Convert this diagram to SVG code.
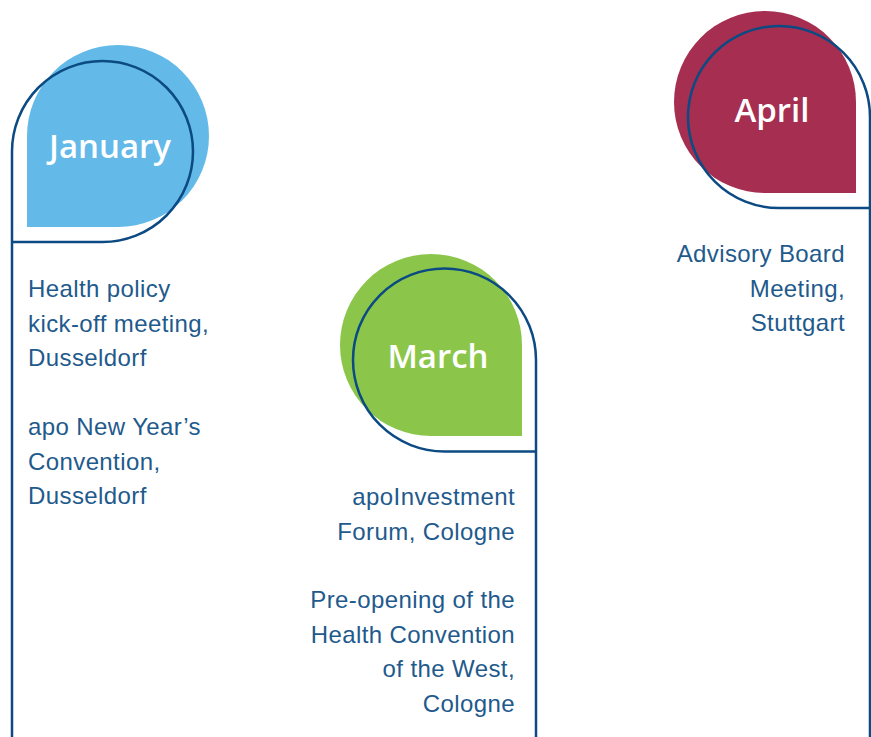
<svg xmlns="http://www.w3.org/2000/svg" width="871" height="737" viewBox="0 0 871 737">
<style>
.line{fill:none;stroke:#0b4a83;stroke-width:2.5}
.month{font-family:"Open Sans","Liberation Sans",sans-serif;font-size:33px;font-weight:600;fill:#ffffff;text-anchor:middle}
.desc{font-family:"Liberation Sans",Arial,sans-serif;font-size:24px;letter-spacing:0.4px;fill:#1f5a8c}
.r{text-anchor:end}
</style>
<rect width="871" height="737" fill="#ffffff"/>
<g id="january">
<path d="M27,227 L27,136 A91,91 0 1 1 118,227 Z" fill="#63b9e8"/>
<text class="month" x="110" y="158">January</text>
<g class="desc">
<text x="28" y="297">Health policy</text>
<text x="28" y="331.5">kick-off meeting,</text>
<text x="28" y="366">Dusseldorf</text>
<text x="28" y="435">apo New Year’s</text>
<text x="28" y="469.5">Convention,</text>
<text x="28" y="504">Dusseldorf</text>
</g>
</g>
<g id="march">
<path d="M522,436 L522,345 A91,91 0 1 0 431,436 Z" fill="#8bc64a"/>
<text class="month" x="438" y="368">March</text>
<g class="desc r">
<text x="515" y="505">apoInvestment</text>
<text x="515" y="539.5">Forum, Cologne</text>
<text x="515" y="608">Pre-opening of the</text>
<text x="515" y="642.5">Health Convention</text>
<text x="515" y="677">of the West,</text>
<text x="515" y="711.5">Cologne</text>
</g>
</g>
<g id="april">
<path d="M856,193 L856,102 A91,91 0 1 0 765,193 Z" fill="#a52e51"/>
<text class="month" x="772" y="122">April</text>
<g class="desc r">
<text x="845" y="262">Advisory Board</text>
<text x="845" y="296.5">Meeting,</text>
<text x="845" y="331">Stuttgart</text>
</g>
</g>
<g id="connectors">
<path class="line" d="M12,737 L12,151.5 A90.5,90.5 0 1 1 102.5,242 L12,242"/>
<path class="line" d="M536,737 L536,360 A91.5,91.5 0 1 0 444.5,451.5 L536,451.5"/>
<path class="line" d="M870,737 L870,117 A91,91 0 1 0 779,208 L870,208"/>
</g>
</svg>
